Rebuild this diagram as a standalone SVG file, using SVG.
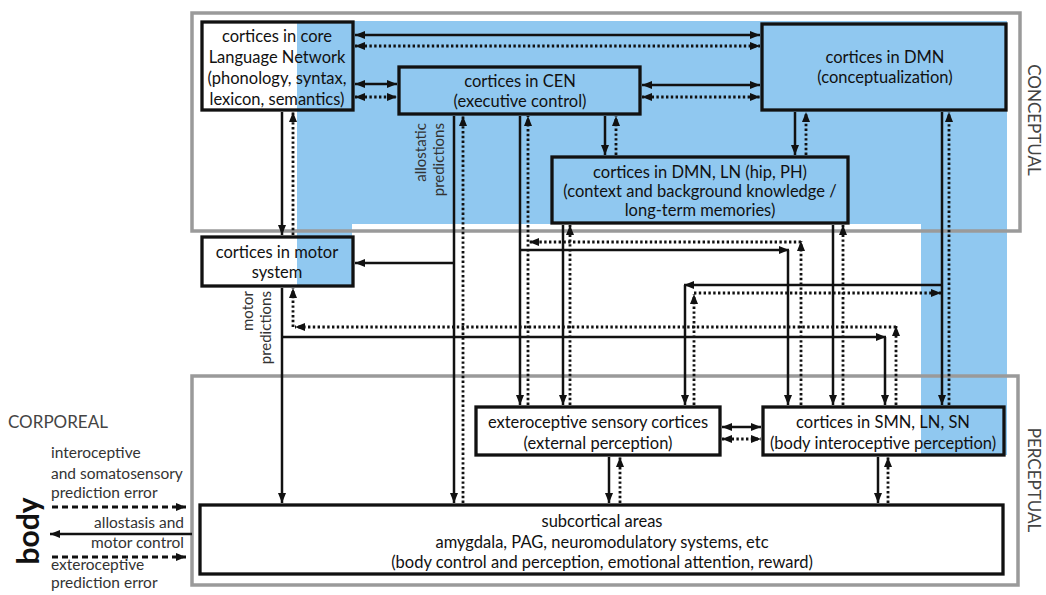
<svg xmlns="http://www.w3.org/2000/svg" width="1046" height="595" viewBox="0 0 1046 595">
  <defs>
    <marker id="ah" viewBox="0 0 10 8" markerWidth="10" markerHeight="8" refX="10" refY="4" orient="auto-start-reverse" markerUnits="userSpaceOnUse">
      <path d="M0,0 L10,4 L0,8 Z" fill="#111"/>
    </marker>
    <style>
      .zone { fill: none; stroke: #9a9a9a; stroke-width: 3.5; }
      .box { fill: none; stroke: #111; stroke-width: 3.3; }
      .t { font-family: Lato, "Open Sans", "Liberation Sans", sans-serif; font-size: 16.5px; fill: #111; text-anchor: middle; }
      .lab { font-family: Lato, "Open Sans", "Liberation Sans", sans-serif; font-size: 15.5px; fill: #333; }
      .rot { font-family: Lato, "Open Sans", "Liberation Sans", sans-serif; font-size: 15px; fill: #333; }
      .side { font-family: Lato, "Open Sans", "Liberation Sans", sans-serif; font-size: 17px; fill: #444; }
      .s { fill: none; stroke: #111; stroke-width: 2.5; }
      .d { fill: none; stroke: #111; stroke-width: 2.8; stroke-dasharray: 2.4 2.4; }
      .dash { fill: none; stroke: #111; stroke-width: 2.8; stroke-dasharray: 6 4; }
      .a { marker-end: url(#ah); }
      .aa { marker-start: url(#ah); marker-end: url(#ah); }
    </style>
  </defs>

  <rect width="1046" height="595" fill="#fff"/>

  <!-- conceptual (blue) band -->
  <polygon points="297,21 1007,21 1007,455 921,455 921,224 352,224 352,286 297,286" fill="#90c8f0"/>

  <!-- level frames -->
  <rect class="zone" x="192" y="13" width="828" height="218"/>
  <rect class="zone" x="192" y="376" width="826" height="209"/>

  <text class="side" transform="rotate(90 1028 120)" x="1028" y="120" text-anchor="middle">CONCEPTUAL</text>
  <text class="side" transform="rotate(90 1028 480)" x="1028" y="480" text-anchor="middle">PERCEPTUAL</text>
  <text class="side" x="8" y="428">CORPOREAL</text>

  <!-- nodes -->
  <g id="core-language">
    <rect class="box" x="202" y="22" width="151" height="88"/>
    <text class="t" x="277" y="42">cortices in core</text>
    <text class="t" x="277" y="63">Language Network</text>
    <text class="t" x="277" y="84">(phonology, syntax,</text>
    <text class="t" x="277" y="105">lexicon, semantics)</text>
  </g>
  <g id="cen">
    <rect class="box" x="399" y="67" width="241" height="47"/>
    <text class="t" x="520" y="87">cortices in CEN</text>
    <text class="t" x="520" y="107">(executive control)</text>
  </g>
  <g id="dmn">
    <rect class="box" x="762" y="24" width="244" height="86"/>
    <text class="t" x="885" y="63">cortices in DMN</text>
    <text class="t" x="885" y="83">(conceptualization)</text>
  </g>
  <g id="dmn-ln">
    <rect class="box" x="552" y="157" width="296" height="66"/>
    <text class="t" x="700" y="178">cortices in DMN, LN (hip, PH)</text>
    <text class="t" x="700" y="197">(context and background knowledge /</text>
    <text class="t" x="700" y="216">long-term memories)</text>
  </g>
  <g id="motor">
    <rect class="box" x="202" y="237" width="151" height="49"/>
    <text class="t" x="277" y="258">cortices in motor</text>
    <text class="t" x="277" y="278">system</text>
  </g>
  <g id="exteroceptive">
    <rect class="box" x="476" y="407" width="244" height="48"/>
    <text class="t" x="598" y="428">exteroceptive sensory cortices</text>
    <text class="t" x="598" y="449">(external perception)</text>
  </g>
  <g id="smn">
    <rect class="box" x="763" y="407" width="241" height="48"/>
    <text class="t" x="883" y="428">cortices in SMN, LN, SN</text>
    <text class="t" x="883" y="449">(body interoceptive perception)</text>
  </g>
  <g id="subcortical">
    <rect class="box" x="200" y="505" width="803" height="69"/>
    <text class="t" x="602" y="527">subcortical areas</text>
    <text class="t" x="602" y="548">amygdala, PAG, neuromodulatory systems, etc</text>
    <text class="t" x="602" y="568">(body control and perception, emotional attention, reward)</text>
  </g>
  <g id="body">
    <text transform="rotate(-90 39 531)" x="39" y="531" text-anchor="middle" font-family="Lato, 'Open Sans', 'Liberation Sans', sans-serif" font-size="30" font-weight="bold" fill="#111">body</text>
  </g>

  <!-- connectors -->
  <g id="connectors">
    <!-- language network / DMN / CEN -->
    <line class="s aa" x1="355" y1="35" x2="760" y2="35"/>
    <line class="d aa" x1="355" y1="46" x2="760" y2="46"/>
    <line class="s aa" x1="355" y1="84" x2="397" y2="84"/>
    <line class="d aa" x1="355" y1="97" x2="397" y2="97"/>
    <line class="s aa" x1="642" y1="85" x2="760" y2="85"/>
    <line class="d aa" x1="642" y1="97" x2="760" y2="97"/>

    <!-- CEN / DMN to hip, PH -->
    <line class="s a" x1="605" y1="116" x2="605" y2="155"/>
    <line class="d a" x1="616" y1="155" x2="616" y2="116"/>
    <line class="s a" x1="795" y1="112" x2="795" y2="155"/>
    <line class="d a" x1="806" y1="155" x2="806" y2="112"/>

    <!-- language network to motor -->
    <line class="s a" x1="282" y1="112" x2="282" y2="235"/>
    <line class="d a" x1="293" y1="235" x2="293" y2="112"/>

    <!-- CEN allostatic predictions to subcortical, branch to motor -->
    <line class="s a" x1="454" y1="116" x2="454" y2="503"/>
    <line class="s a" x1="454" y1="263" x2="355" y2="263"/>
    <line class="d a" x1="463" y1="503" x2="463" y2="116"/>

    <!-- CEN to exteroceptive, branch to SMN -->
    <line class="s a" x1="520" y1="116" x2="520" y2="405"/>
    <line class="s a" x1="520" y1="250" x2="789" y2="250"/>
    <line class="s a" x1="788" y1="250" x2="788" y2="405"/>
    <line class="d a" x1="528" y1="405" x2="528" y2="116"/>
    <line class="d a" x1="801" y1="405" x2="801" y2="241"/>
    <line class="d a" x1="801" y1="242" x2="529" y2="242"/>

    <!-- hip, PH to exteroceptive and SMN -->
    <line class="s a" x1="563" y1="225" x2="563" y2="405"/>
    <line class="d a" x1="570" y1="405" x2="570" y2="225"/>
    <line class="s a" x1="833" y1="225" x2="833" y2="405"/>
    <line class="d a" x1="843" y1="405" x2="843" y2="225"/>

    <!-- DMN to SMN, branch to exteroceptive -->
    <line class="s a" x1="942" y1="112" x2="942" y2="405"/>
    <line class="s a" x1="942" y1="285" x2="684" y2="285"/>
    <line class="s a" x1="685" y1="285" x2="685" y2="405"/>
    <line class="d a" x1="949" y1="405" x2="949" y2="112"/>
    <line class="d a" x1="694" y1="405" x2="694" y2="294"/>
    <line class="d a" x1="694" y1="293" x2="941" y2="293"/>

    <!-- motor predictions -->
    <line class="s a" x1="282" y1="288" x2="282" y2="503"/>
    <line class="s a" x1="282" y1="337" x2="886" y2="337"/>
    <line class="s a" x1="885" y1="337" x2="885" y2="405"/>
    <line class="d a" x1="896" y1="405" x2="896" y2="326"/>
    <line class="d a" x1="896" y1="327" x2="295" y2="327"/>
    <line class="d a" x1="293" y1="327" x2="293" y2="288"/>

    <!-- perceptual level -->
    <line class="s aa" x1="722" y1="427" x2="761" y2="427"/>
    <line class="d aa" x1="722" y1="439" x2="761" y2="439"/>
    <line class="s a" x1="609" y1="457" x2="609" y2="503"/>
    <line class="d a" x1="620" y1="503" x2="620" y2="457"/>
    <line class="s a" x1="878" y1="457" x2="878" y2="503"/>
    <line class="d a" x1="888" y1="503" x2="888" y2="457"/>

    <!-- body exchanges -->
    <line class="dash a" x1="52" y1="507" x2="186" y2="507"/>
    <line class="s a" x1="192" y1="534" x2="50" y2="534"/>
    <line class="dash a" x1="52" y1="557" x2="186" y2="557"/>
  </g>

  <!-- connector labels -->
  <text class="rot" transform="rotate(-90 426 123)" x="426" y="123" text-anchor="end">allostatic</text>
  <text class="rot" transform="rotate(-90 444 123)" x="444" y="123" text-anchor="end">predictions</text>
  <text class="rot" transform="rotate(-90 253 291)" x="253" y="291" text-anchor="end">motor</text>
  <text class="rot" transform="rotate(-90 271 291)" x="271" y="291" text-anchor="end">predictions</text>

  <text class="lab" x="51" y="458">interoceptive</text>
  <text class="lab" x="51" y="479">and somatosensory</text>
  <text class="lab" x="51" y="498">prediction error</text>
  <text class="lab" x="184" y="528" text-anchor="end">allostasis and</text>
  <text class="lab" x="184" y="548" text-anchor="end">motor control</text>
  <text class="lab" x="51" y="570">exteroceptive</text>
  <text class="lab" x="51" y="588">prediction error</text>
</svg>
